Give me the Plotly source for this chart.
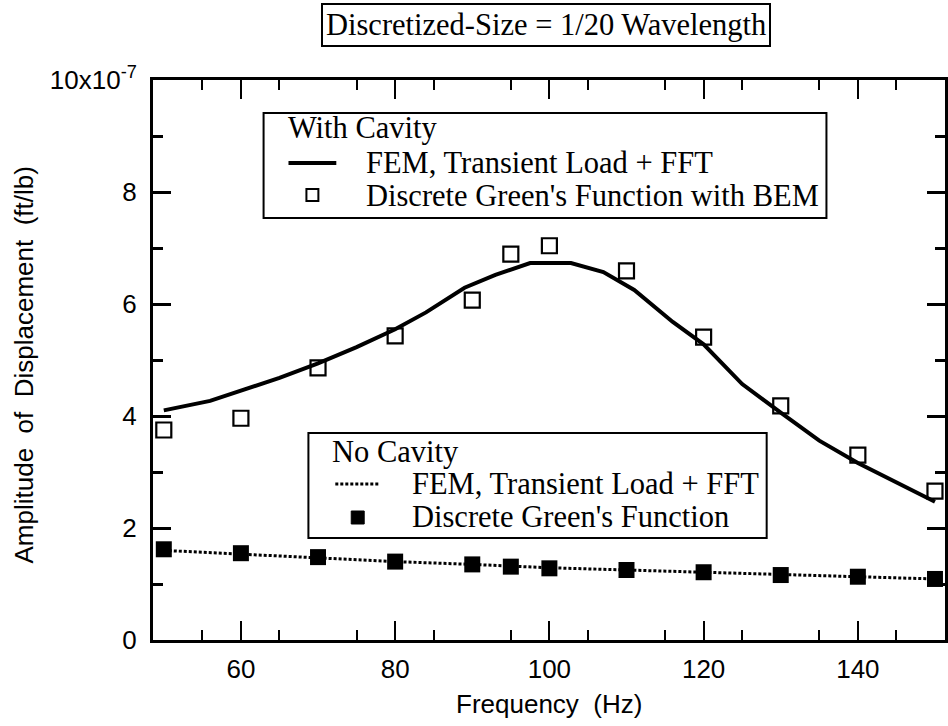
import plotly.graph_objects as go

# Frequency grid of the computed responses (Hz)
freq_fem = [50, 56, 65, 70, 75, 80, 84, 89, 93, 97.5, 102.8, 107, 111, 116, 120, 125, 130, 135, 140, 145, 150]
# With cavity: FEM, transient load + FFT (x1e-7 ft/lb)
amp_fem_cavity = [4.10, 4.27, 4.68, 4.94, 5.23, 5.55, 5.85, 6.29, 6.52, 6.73, 6.73, 6.57, 6.25, 5.68, 5.28, 4.57, 4.06, 3.56, 3.16, 2.82, 2.47]

# Discrete Green's function sample frequencies (Hz)
freq_dgf = [50, 60, 70, 80, 90, 95, 100, 110, 120, 130, 140, 150]
# With cavity: Discrete Green's function with BEM
amp_dgf_cavity = [3.75, 3.96, 4.86, 5.43, 6.07, 6.89, 7.04, 6.59, 5.41, 4.18, 3.30, 2.66]
# No cavity: FEM, transient load + FFT
amp_fem_free = [1.60, 1.53, 1.47, 1.40, 1.35, 1.32, 1.29, 1.25, 1.21, 1.17, 1.13, 1.09]
# No cavity: Discrete Green's function
amp_dgf_free = [1.62, 1.55, 1.48, 1.40, 1.35, 1.31, 1.28, 1.25, 1.21, 1.16, 1.13, 1.09]

x_label_vals = [60, 80, 100, 120, 140]
x_label_text = ["60", "80", "100", "120", "140"]
x_mid_ticks = [50, 70, 90, 110, 130, 150]
x_minor_ticks = [55, 65, 75, 85, 95, 105, 115, 125, 135, 145]
y_tickvals = [0, 2, 4, 6, 8, 10]
y_ticktext = ["0", "2", "4", "6", "8", "10x10<sup>-7</sup>"]
y_minor_ticks = [1, 3, 5, 7, 9]

X_RANGE = [48.6, 151.3]
Y_RANGE = [0, 10]

W, H = 948, 726
L, T, B = 153, 80, 86
PW, PH = W - L, H - T - B

SANS = "Liberation Sans, Arial, sans-serif"
SERIF = "Liberation Serif, Times New Roman, serif"


def px(p):
    return (p - L) / PW


def py(p):
    return (T + PH - p) / PH


fig = go.Figure()
fig.add_trace(go.Scatter(x=freq_fem, y=amp_fem_cavity, mode="lines",
                         line=dict(color="black", width=4), showlegend=False))
fig.add_trace(go.Scatter(x=freq_dgf, y=amp_dgf_cavity, mode="markers",
                         marker=dict(symbol="square-open", size=15, color="black",
                                     line=dict(width=2.2, color="black")),
                         showlegend=False))
fig.add_trace(go.Scatter(x=freq_dgf, y=amp_fem_free, mode="lines",
                         line=dict(color="black", width=3, dash="3px,2px"), showlegend=False))
fig.add_trace(go.Scatter(x=freq_dgf, y=amp_dgf_free, mode="markers",
                         marker=dict(symbol="square", size=16, color="black"),
                         showlegend=False))

shapes = []
annotations = []

# Legend box: with cavity
shapes.append(dict(type="rect", xref="paper", yref="paper",
                   x0=px(264), x1=px(829), y0=py(113), y1=py(218),
                   line=dict(color="black", width=2), fillcolor="white", layer="above"))
shapes.append(dict(type="line", xref="paper", yref="paper",
                   x0=px(289), x1=px(337), y0=py(163), y1=py(163),
                   line=dict(color="black", width=4)))
shapes.append(dict(type="rect", xref="paper", yref="paper",
                   x0=px(307), x1=px(319), y0=py(189), y1=py(201),
                   line=dict(color="black", width=2)))
annotations += [
    dict(text="With Cavity", x=px(287), y=py(128)),
    dict(text="FEM, Transient Load + FFT", x=px(365), y=py(163)),
    dict(text="Discrete Green's Function with BEM", x=px(365), y=py(196)),
]

# Legend box: no cavity
shapes.append(dict(type="rect", xref="paper", yref="paper",
                   x0=px(309), x1=px(769), y0=py(433), y1=py(538),
                   line=dict(color="black", width=2), fillcolor="white", layer="above"))
shapes.append(dict(type="line", xref="paper", yref="paper",
                   x0=px(336), x1=px(381), y0=py(484), y1=py(484),
                   line=dict(color="black", width=3, dash="3px,2px")))
shapes.append(dict(type="rect", xref="paper", yref="paper",
                   x0=px(352), x1=px(365), y0=py(511), y1=py(524),
                   line=dict(color="black", width=1), fillcolor="black"))
annotations += [
    dict(text="No Cavity", x=px(331), y=py(452)),
    dict(text="FEM, Transient Load + FFT", x=px(411), y=py(484)),
    dict(text="Discrete Green's Function", x=px(411), y=py(517)),
]
for a in annotations:
    a.update(xref="paper", yref="paper", xanchor="left", yanchor="middle",
             showarrow=False, font=dict(family=SERIF, size=30.5, color="black"))

# Heading box
annotations.append(dict(text="Discretized-Size = 1/20 Wavelength", xref="paper", yref="paper",
                        x=px(547), y=py(25), xanchor="center", yanchor="middle",
                        showarrow=False, bordercolor="black", borderwidth=2, borderpad=3,
                        font=dict(family=SERIF, size=30.5, color="black")))
# Axis titles
annotations.append(dict(text="Amplitude  of  Displacement  (ft/lb)", xref="paper", yref="paper",
                        x=px(24), y=py(365), xanchor="center", yanchor="middle",
                        textangle=-90, showarrow=False,
                        font=dict(family=SANS, size=26, color="black")))
annotations.append(dict(text="Frequency  (Hz)", xref="paper", yref="paper",
                        x=px(551), y=py(704), xanchor="center", yanchor="middle",
                        showarrow=False, font=dict(family=SANS, size=26, color="black")))

axis_common = dict(showline=True, linewidth=3, linecolor="black",
                   showgrid=False, zeroline=False)

fig.update_layout(
    width=W, height=H,
    margin=dict(l=L, r=0, t=T, b=B),
    paper_bgcolor="white", plot_bgcolor="white",
    shapes=shapes, annotations=annotations,
    showlegend=False,
    xaxis=dict(
        range=X_RANGE, tickvals=x_label_vals, ticktext=x_label_text,
        ticks="inside", ticklen=19, tickwidth=2, tickcolor="black",
        minor=dict(tickvals=x_minor_ticks, ticks="inside", ticklen=10,
                   tickwidth=2, tickcolor="black"),
        mirror="allticks", ticklabelstandoff=4,
        tickfont=dict(family=SANS, size=26, color="black"),
        **axis_common,
    ),
    # second bottom axis carrying the intermediate (10 Hz) ticks
    xaxis2=dict(
        overlaying="x", anchor="y", side="bottom",
        range=X_RANGE, tickvals=x_mid_ticks, showticklabels=False,
        ticks="inside", ticklen=15, tickwidth=2, tickcolor="black",
        mirror="ticks", **axis_common,
    ),
    yaxis=dict(
        range=Y_RANGE, tickvals=y_tickvals, ticktext=y_ticktext,
        ticks="inside", ticklen=18, tickwidth=2.5, tickcolor="black",
        minor=dict(tickvals=y_minor_ticks, ticks="inside", ticklen=10,
                   tickwidth=2.5, tickcolor="black"),
        mirror="allticks", ticklabelstandoff=8,
        tickfont=dict(family=SANS, size=26, color="black"),
        **axis_common,
    ),
)

fig.write_html("out.html")
